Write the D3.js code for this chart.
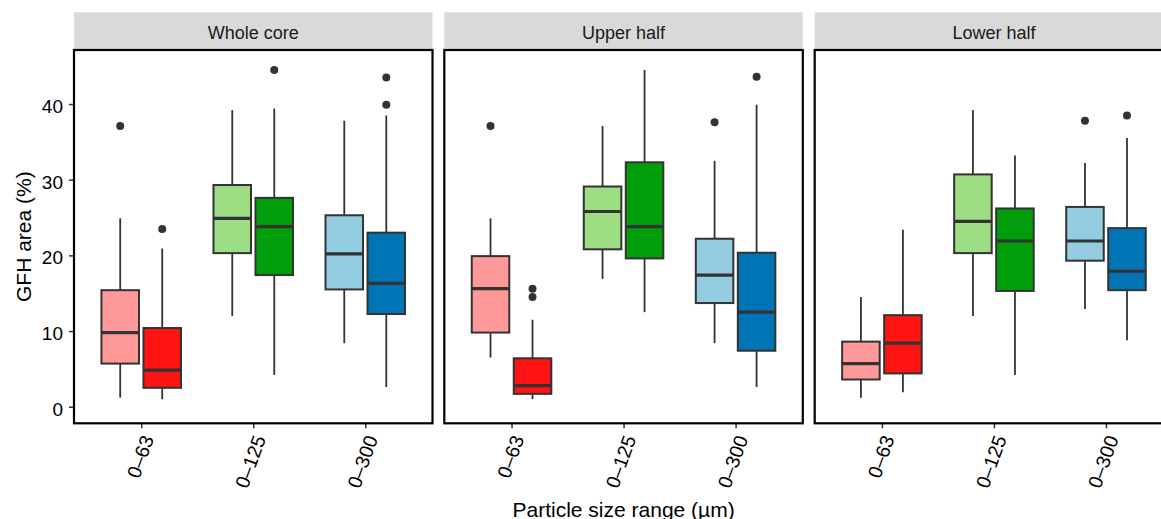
<!DOCTYPE html>
<html>
<head>
<meta charset="utf-8">
<script src="https://cdn.jsdelivr.net/npm/d3@7"></script>
<style>
  body { margin: 0; background: #fff; }
  svg { display: block; font-family: 'Liberation Sans', Arial, sans-serif; }
</style>
</head>
<body>
<svg id="chart" width="1161" height="519"></svg>
<script>
const panels = ['Whole core', 'Upper half', 'Lower half'];
const sizeRanges = ['0–63', '0–125', '0–300'];
const groups = ['a', 'b'];
const yTicks = [0, 10, 20, 30, 40];

// fill per size range, light/dark for the two groups
const fills = {
    '0–63': ['#FF9999', '#FF1313'],
    '0–125': ['#9DDE85', '#009E0B'],
    '0–300': ['#94CDE2', '#0075B6']
};

// [range, group, lower whisker, q1, median, q3, upper whisker]
const wholeCoreStats = [
    ['0–63', 'a', 1.2, 5.7, 9.8, 15.4, 24.9],
    ['0–63', 'b', 1.0, 2.5, 4.85, 10.4, 20.9],
    ['0–125', 'a', 12.0, 20.3, 24.9, 29.3, 39.2],
    ['0–125', 'b', 4.2, 17.4, 23.8, 27.6, 39.4],
    ['0–300', 'a', 8.4, 15.5, 20.2, 25.3, 37.8],
    ['0–300', 'b', 2.6, 12.25, 16.3, 23.0, 38.5]
];
const wholeCoreOutliers = [
    ['0–63', 'a', 37.1], ['0–63', 'b', 23.5], ['0–125', 'b', 44.5],
    ['0–300', 'b', 43.5], ['0–300', 'b', 39.9]
];

const upperHalfStats = [
    ['0–63', 'a', 6.5, 9.8, 15.6, 19.9, 24.9],
    ['0–63', 'b', 1.0, 1.7, 2.8, 6.4, 11.5],
    ['0–125', 'a', 16.9, 20.8, 25.8, 29.1, 37.1],
    ['0–125', 'b', 12.5, 19.6, 23.8, 32.3, 44.5],
    ['0–300', 'a', 8.4, 13.7, 17.4, 22.2, 32.5],
    ['0–300', 'b', 2.6, 7.4, 12.5, 20.35, 39.9]
];
const upperHalfOutliers = [
    ['0–63', 'a', 37.1], ['0–63', 'b', 15.6], ['0–63', 'b', 14.5],
    ['0–300', 'a', 37.6], ['0–300', 'b', 43.6]
];

const lowerHalfStats = [
    ['0–63', 'a', 1.2, 3.6, 5.7, 8.6, 14.5],
    ['0–63', 'b', 1.9, 4.4, 8.4, 12.1, 23.4],
    ['0–125', 'a', 12.0, 20.3, 24.5, 30.7, 39.2],
    ['0–125', 'b', 4.2, 15.3, 21.9, 26.2, 33.2],
    ['0–300', 'a', 12.9, 19.3, 21.9, 26.4, 32.2],
    ['0–300', 'b', 8.8, 15.4, 17.9, 23.6, 35.5]
];
const lowerHalfOutliers = [['0–300', 'a', 37.8], ['0–300', 'b', 38.5]];

const panelStats = [wholeCoreStats, upperHalfStats, lowerHalfStats];
const panelOutliers = [wholeCoreOutliers, upperHalfOutliers, lowerHalfOutliers];

// layout
const panelLeft = [74, 444.3, 814.7];
const panelW = 358.5;
const stripTop = 12.3, panelTop = 50, panelBottom = 423.3;

const svg = d3.select('#chart');

const yScale = d3.scaleLinear()
    .domain([-2.19, 47.14])
    .range([panelBottom, panelTop]);

const xScale = d3.scalePoint()
    .domain(sizeRanges)
    .range([0, panelW])
    .padding(0.6);
const step = xScale.step();

// dodge the two groups inside each size range
const xSub = d3.scaleBand()
    .domain(groups)
    .range([-0.375 * step, 0.375 * step]);
const boxW = 0.335 * step;
const cx = (d) => xScale(d[0]) + xSub(d[1]) + xSub.bandwidth() / 2;

panels.forEach((name, i) => {
    const g = svg.append('g').attr('transform', `translate(${panelLeft[i]},0)`);

    // strip
    g.append('rect')
        .attr('x', 0).attr('y', stripTop)
        .attr('width', panelW).attr('height', panelTop - stripTop)
        .attr('fill', '#D9D9D9');
    g.append('text')
        .attr('x', panelW / 2).attr('y', 38.5)
        .attr('text-anchor', 'middle')
        .attr('font-size', 18)
        .attr('fill', '#1A1A1A')
        .text(name);

    // x axis
    const xAxis = g.append('g')
        .attr('transform', `translate(0,${panelBottom})`)
        .call(d3.axisBottom(xScale).tickSize(5));
    xAxis.select('.domain').remove();
    xAxis.selectAll('line').attr('stroke', '#333').attr('stroke-width', 1.5);
    xAxis.selectAll('text')
        .attr('x', 0).attr('y', 0).attr('dy', '0.35em')
        .attr('transform', 'translate(6,13) rotate(-70)')
        .attr('text-anchor', 'end')
        .attr('font-size', 19.5)
        .attr('font-family', "'Liberation Sans', Arial, sans-serif")
        .attr('fill', '#000');

    if (i === 0) {
        const yAxis = g.append('g')
            .call(d3.axisLeft(yScale).tickValues(yTicks).tickSize(5).tickPadding(6));
        yAxis.select('.domain').remove();
        yAxis.selectAll('line').attr('stroke', '#333').attr('stroke-width', 1.5);
        yAxis.selectAll('text')
            .attr('dy', null).attr('y', 8.5)
            .attr('font-size', 19)
            .attr('font-family', "'Liberation Sans', Arial, sans-serif")
            .attr('fill', '#000');
    }

    const stats = panelStats[i];

    // whiskers
    g.selectAll('.whisker')
        .data(stats)
        .join('line')
        .attr('class', 'whisker')
        .attr('x1', cx).attr('x2', cx)
        .attr('y1', d => yScale(d[2]))
        .attr('y2', d => yScale(d[6]))
        .attr('stroke', '#333')
        .attr('stroke-width', 1.8);

    // boxes
    g.selectAll('.box')
        .data(stats)
        .join('rect')
        .attr('class', 'box')
        .attr('x', d => cx(d) - boxW / 2)
        .attr('width', boxW)
        .attr('y', d => yScale(d[5]))
        .attr('height', d => yScale(d[3]) - yScale(d[5]))
        .attr('fill', d => fills[d[0]][groups.indexOf(d[1])])
        .attr('stroke', '#333')
        .attr('stroke-width', 2);

    // medians
    g.selectAll('.median')
        .data(stats)
        .join('line')
        .attr('class', 'median')
        .attr('x1', d => cx(d) - boxW / 2)
        .attr('x2', d => cx(d) + boxW / 2)
        .attr('y1', d => yScale(d[4]))
        .attr('y2', d => yScale(d[4]))
        .attr('stroke', '#333')
        .attr('stroke-width', 3.2);

    // outliers
    g.selectAll('.outlier')
        .data(panelOutliers[i])
        .join('circle')
        .attr('class', 'outlier')
        .attr('cx', cx)
        .attr('cy', d => yScale(d[2]))
        .attr('r', 4)
        .attr('fill', '#333');

    // panel border
    g.append('rect')
        .attr('x', 0).attr('y', panelTop)
        .attr('width', panelW).attr('height', panelBottom - panelTop)
        .attr('fill', 'none')
        .attr('stroke', '#000')
        .attr('stroke-width', 2.2);
});

// axis titles
svg.append('text')
    .attr('transform', `translate(30.5,${(panelTop + panelBottom) / 2}) rotate(-90)`)
    .attr('text-anchor', 'middle')
    .attr('font-size', 21)
    .text('GFH area (%)');

svg.append('text')
    .attr('x', (panelLeft[0] + panelLeft[2] + panelW) / 2)
    .attr('y', 516.5)
    .attr('text-anchor', 'middle')
    .attr('font-size', 21)
    .text('Particle size range (µm)');
</script>
</body>
</html>
